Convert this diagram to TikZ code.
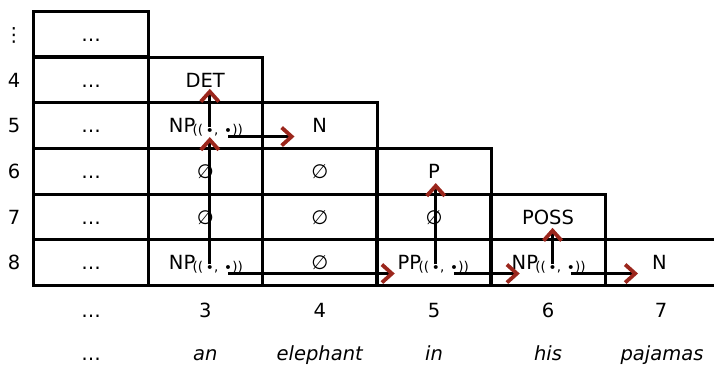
\documentclass[tikz,border=0pt]{standalone}
\usepackage{fontspec}
\setmainfont{DejaVu Sans}
\usetikzlibrary{arrows.meta,calc}
\definecolor{arrred}{RGB}{155,38,28}
\newcommand\ptrlabel[3]{% #1 name, #2 cell, #3 category
  \node[lbl,anchor=base west] (#1) at ($(#2.center)+(-36.5,7)$) {#3};
  \node[sublbl] (#1o) at ($(#1.base east)+(-3,1.5)$) {((};
  \node[sublbl] (#1a) at ($(#1o.base east)+(2.2,1)$) {•};
  \node[sublbl] (#1m) at ($(#1a.base east)+(0,-1)$) {,};
  \node[sublbl] (#1b) at ($(#1m.base east)+(5.2,1)$) {•};
  \node[sublbl] (#1e) at ($(#1b.base east)+(0,-1)$) {))};
}
\begin{document}
\begin{tikzpicture}[x=1pt,y=-1pt,
  cell/.style={draw, line width=3pt, minimum width=114.5pt, minimum height=45.6pt,
    inner sep=0pt, outer sep=0pt, text height=14.2pt, text depth=0pt,
    font=\fontsize{19.5}{22}\selectfont},
  lastcell/.style={cell, draw=none, minimum width=109pt},
  lbl/.style={font=\fontsize{19.5}{22}\selectfont, inner sep=0pt, anchor=base},
  sublbl/.style={font=\fontsize{13.5}{15}\selectfont, inner sep=0pt, anchor=base west},
  arr/.style={line width=3pt, -{Straight Barb[length=10pt,width=18pt,line width=3.8pt,color=arrred]}},
  edge/.style={line width=3pt}
]
\useasboundingbox (0,0) rectangle (714,365);
% column 0
\node[cell] (d0) at (91,34) {…};
\node[cell] (d4) at (91,80) {…};
\node[cell] (d5) at (91,125.75) {…};
\node[cell] (d6) at (91,171.25) {…};
\node[cell] (d7) at (91,217) {…};
\node[cell] (d8) at (91,262.75) {…};
% column 3
\node[cell] (r4c3) at (205.25,80) {DET};
\node[cell] (r5c3) at (205.25,125.75) {};
\node[cell] (r6c3) at (205.25,171.25) {∅};
\node[cell] (r7c3) at (205.25,217) {∅};
\node[cell] (r8c3) at (205.25,262.75) {};
% column 4
\node[cell] (r5c4) at (319.75,125.75) {N};
\node[cell] (r6c4) at (319.75,171.25) {∅};
\node[cell] (r7c4) at (319.75,217) {∅};
\node[cell] (r8c4) at (319.75,262.75) {∅};
% column 5
\node[cell] (r6c5) at (434,171.25) {P};
\node[cell] (r7c5) at (434,217) {∅};
\node[cell] (r8c5) at (434,262.75) {};
% column 6
\node[cell] (r7c6) at (548,217) {POSS};
\node[cell] (r8c6) at (548,262.75) {};
% column 7
\node[lastcell] (r8c7) at (659.5,262.75) {N};
\draw[edge] (r8c7.north west) -- (r8c7.north east);
\draw[edge] (r8c7.south west) -- (r8c7.south east);
% row labels
\node[lbl] (l0) at (14,41) {⋮};
\node[lbl] (l4) at (14,87) {4};
\node[lbl] (l5) at (14,132.75) {5};
\node[lbl] (l6) at (14,178.25) {6};
\node[lbl] (l7) at (14,224) {7};
\node[lbl] (l8) at (14,269.75) {8};
% column labels
\node[lbl] (k0) at (91,317) {…};
\node[lbl] (k3) at (205.25,317) {3};
\node[lbl] (k4) at (319.75,317) {4};
\node[lbl] (k5) at (434,317) {5};
\node[lbl] (k6) at (548,317) {6};
\node[lbl] (k7) at (661,317) {7};
\node[lbl] (w0) at (91,360) {…};
\node[lbl] (w3) at (205.25,360) {\itshape an};
\node[lbl] (w4) at (319.75,360) {\itshape elephant};
\node[lbl] (w5) at (434,360) {\itshape in};
\node[lbl] (w6) at (548,360) {\itshape his};
\node[lbl] (w7) at (662,360) {\itshape pajamas};
% pointer labels
\ptrlabel{np5}{r5c3}{NP}
\ptrlabel{np8}{r8c3}{NP}
\ptrlabel{pp8}{r8c5}{PP}
\ptrlabel{np86}{r8c6}{NP}
% arrow targets
\coordinate (t5) at ($(r5c4.west)+(32,0)$);
\coordinate (t8a) at ($(r8c5.west)+(18,0)$);
\coordinate (t8b) at ($(r8c6.west)+(29,0)$);
\coordinate (t8c) at ($(r8c7.west)+(33,0)$);
% arrows
\draw[arr] ($(np5a.north)+(0,-1)$) -- ($(np5a.north |- r4c3.south)+(0,-14)$);
\draw[arr] ($(np8a.north)+(0,-1)$) -- ($(np8a.north |- r5c3.south)+(0,-11.5)$);
\draw[arr] ($(pp8a.north)+(0,-1)$) -- ($(pp8a.north |- r6c5.south)+(0,-11)$);
\draw[arr] ($(np86a.north)+(0,-1)$) -- ($(np86a.north |- r7c6.south)+(0,-12)$);
\draw[arr] ($(np5b.center |- r5c3.south)+(0,-12)$) coordinate (s5) -- (s5 -| t5);
\draw[arr] ($(np8b.center |- r8c3.south)+(0,-12)$) coordinate (s8a) -- (s8a -| t8a);
\draw[arr] ($(pp8b.center |- r8c5.south)+(0,-12)$) coordinate (s8b) -- (s8b -| t8b);
\draw[arr] ($(np86b.center |- r8c6.south)+(0,-12)$) coordinate (s8c) -- (s8c -| t8c);
\end{tikzpicture}
\end{document}
